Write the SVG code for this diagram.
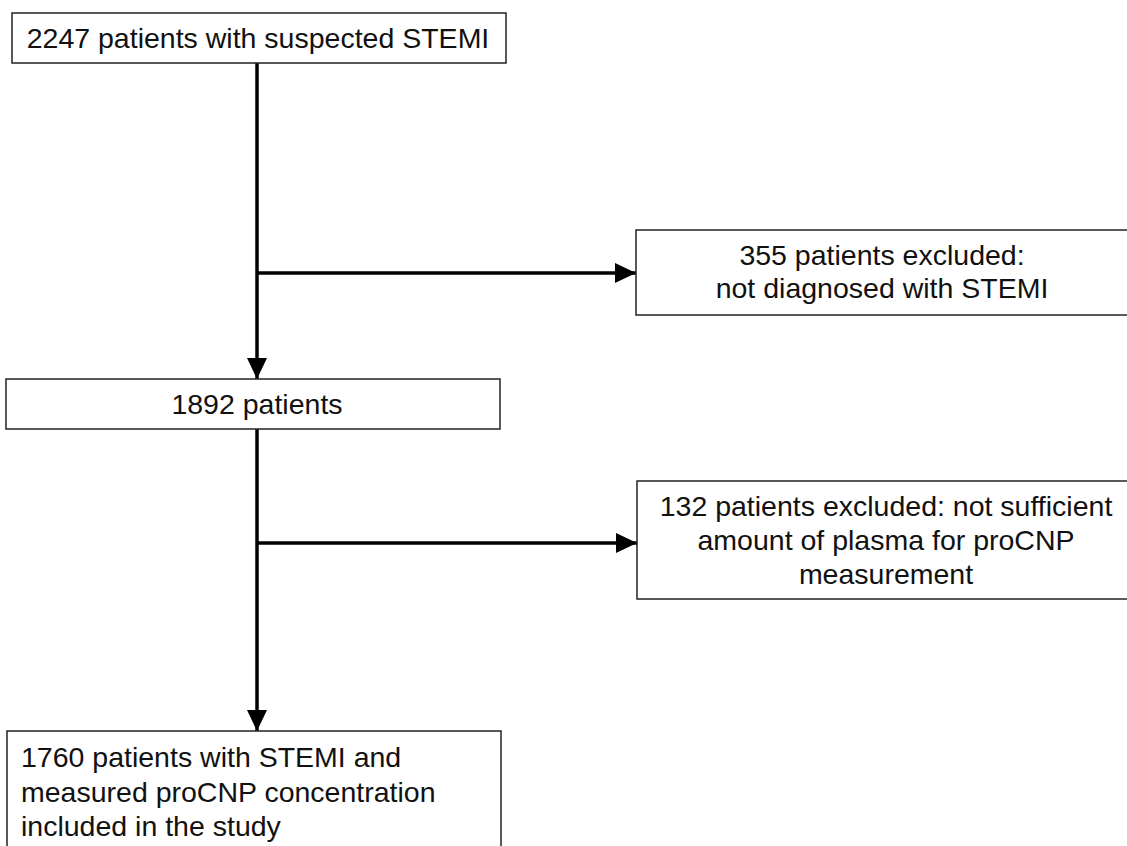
<svg xmlns="http://www.w3.org/2000/svg" width="1127" height="846" viewBox="0 0 1127 846">
<style>
.box{fill:#fff;stroke:#222;stroke-width:1.5}
.t{font-family:"Liberation Sans",Arial,sans-serif;font-size:28.5px;fill:#111}
.c{text-anchor:middle}
.ln{stroke:#000;stroke-width:3.5;fill:none}
</style>
<defs>
<marker id="ah" markerUnits="userSpaceOnUse" markerWidth="22" markerHeight="22" refX="21" refY="10" orient="auto">
<path d="M0,0 L21,10 L0,20 Z" fill="#000"/>
</marker>
</defs>
<rect width="1127" height="846" fill="#fff"/>
<g id="connectors">
<line class="ln" x1="257" y1="63" x2="257" y2="379" marker-end="url(#ah)"/>
<line class="ln" x1="257" y1="273" x2="636" y2="273" marker-end="url(#ah)"/>
<line class="ln" x1="257" y1="429" x2="257" y2="731" marker-end="url(#ah)"/>
<line class="ln" x1="257" y1="543" x2="637" y2="543" marker-end="url(#ah)"/>
</g>
<g id="n1">
<rect class="box" x="12" y="13" width="494" height="50"/>
<text class="t c" x="258" y="48">2247 patients with suspected STEMI</text>
</g>
<g id="n2">
<rect class="box" x="636" y="230" width="495" height="85"/>
<text class="t c" x="882" y="265">355 patients excluded:</text>
<text class="t c" x="882" y="298">not diagnosed with STEMI</text>
</g>
<g id="n3">
<rect class="box" x="6" y="379" width="494" height="50"/>
<text class="t c" x="257" y="414">1892 patients</text>
</g>
<g id="n4">
<rect class="box" x="637" y="481" width="494" height="118"/>
<text class="t c" x="886" y="516">132 patients excluded: not sufficient</text>
<text class="t c" x="886" y="550">amount of plasma for proCNP</text>
<text class="t c" x="886" y="584">measurement</text>
</g>
<g id="n5">
<rect class="box" x="7" y="731" width="494" height="130"/>
<text class="t" x="21" y="767">1760 patients with STEMI and</text>
<text class="t" x="21" y="802">measured proCNP concentration</text>
<text class="t" x="21" y="836">included in the study</text>
</g>
</svg>
